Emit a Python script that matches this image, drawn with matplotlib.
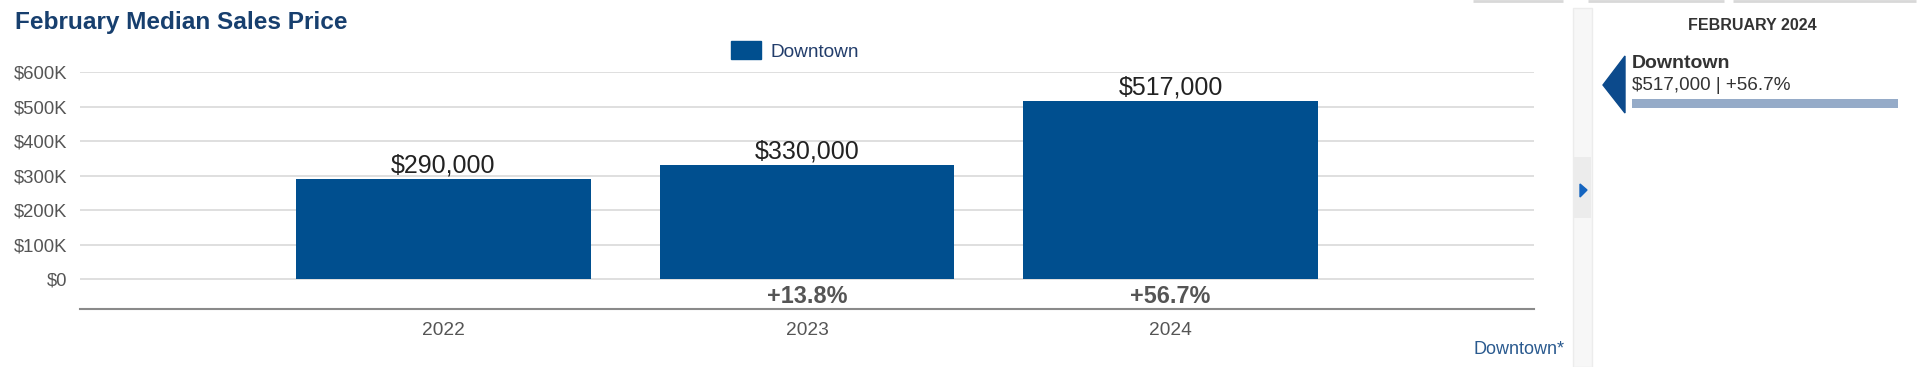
import matplotlib
matplotlib.use('Agg')
import matplotlib.pyplot as plt
from matplotlib.patches import Rectangle, Polygon, Patch
from matplotlib.ticker import FuncFormatter

plt.rcParams['font.family'] = ['Liberation Sans', 'DejaVu Sans']

# data
years = ['2022', '2023', '2024']
median_price = [290000, 330000, 517000]
pct_change = ['', '+13.8%', '+56.7%']
area_name = 'Downtown'
chart_title = 'February Median Sales Price'
side_title = 'FEBRUARY 2024'
side_value = '$517,000 | +56.7%'

BAR_BLUE = '#004f8f'
GREY_TXT = '#555555'
W, H = 1920, 367

fig = plt.figure(figsize=(W / 100, H / 100), dpi=100)
fig.patch.set_facecolor('white')

# main plot area, placed in pixel terms
left, right, top, bottom = 80, 1534, 72, 308.5
ax = fig.add_axes([left / W, 1 - bottom / H, (right - left) / W, (bottom - top) / H])
x = list(range(len(years)))
bars = ax.bar(x, median_price, width=0.81, color=BAR_BLUE, zorder=3, label=area_name)
ax.set_xlim(-1, len(years))
ax.set_ylim(-84500, 600000)
yt = [0, 100000, 200000, 300000, 400000, 500000, 600000]
ax.set_yticks(yt)
ax.yaxis.set_major_formatter(FuncFormatter(lambda v, p: '$0' if v == 0 else f'${int(v / 1000)}K'))
for v in yt:
    ax.axhline(v, color='#dcdcdc', lw=1.3, zorder=1)
ax.set_xticks(x)
ax.set_xticklabels(years)
ax.tick_params(axis='y', length=0, pad=9, labelsize=13.3, labelcolor=GREY_TXT)
ax.tick_params(axis='x', length=0, pad=9.5, labelsize=13.8, labelcolor=GREY_TXT)
for s in ['top', 'right', 'left']:
    ax.spines[s].set_visible(False)
ax.spines['bottom'].set_color('#8a8a8a')
ax.spines['bottom'].set_linewidth(1.5)

# value labels and % change
ylo = ax.get_ylim()[0]
for xi, v, pc in zip(x, median_price, pct_change):
    ax.annotate(f'${v:,.0f}', (xi, v), xytext=(0, 1), textcoords='offset points',
                ha='center', va='bottom', fontsize=18, color='#222222')
    if pc:
        ax.text(xi, ylo / 2 - 8000, pc, ha='center', va='center', fontsize=16.8,
                fontweight='bold', color=GREY_TXT)

fig.text(15 / W, 1 - 22 / H, chart_title, fontsize=17.6, fontweight='bold',
         color='#173f6e', ha='left', va='center')

fig.legend(handles=[Patch(facecolor=BAR_BLUE, edgecolor=BAR_BLUE, label=area_name)],
           loc='center', bbox_to_anchor=(795 / W, 1 - 51 / H), frameon=False,
           fontsize=13.7, handlelength=1.6, handleheight=1.1, handletextpad=0.5,
           labelcolor='#223d6b')

# decoration overlay in pixel coordinates
ov = fig.add_axes([0, 0, 1, 1], zorder=-1)
ov.set_xlim(0, W)
ov.set_ylim(H, 0)
ov.axis('off')
ov.patch.set_alpha(0)
for x0, x1 in [(1473, 1563), (1588, 1724), (1733, 1916)]:
    ov.plot([x0, x1], [1, 1], color='#d8d8d8', lw=2, solid_capstyle='butt')
ov.add_patch(Rectangle((1573, 8), 19, H - 8, facecolor='#f7f7f7', edgecolor='#ececec', lw=1))
ov.add_patch(Rectangle((1574, 157), 17, 61, facecolor='#ececec', edgecolor='none'))
ov.add_patch(Polygon([(1580, 184), (1587, 190), (1580, 197)], closed=True, color='#1565c0'))

fig.text(1752 / W, 1 - 25 / H, side_title, fontsize=11.5, fontweight='bold',
         color='#333333', ha='center', va='center')
ov.add_patch(Polygon([(1603, 85), (1625, 56), (1625, 113)], closed=True, color='#0c4a8c'))
fig.text(1632 / W, 1 - 63 / H, area_name, fontsize=14, fontweight='bold',
         color='#333333', ha='left', va='center')
fig.text(1632 / W, 1 - 86 / H, side_value, fontsize=13.6,
         color='#333333', ha='left', va='center')
ov.add_patch(Rectangle((1632, 99), 266, 9, facecolor='#95abc8', edgecolor='none'))

fig.text(1565 / W, 1 - 350 / H, area_name + '*', fontsize=13, color='#2a5a8f',
         ha='right', va='center')

fig.savefig('out.png', dpi=100, facecolor='white')
